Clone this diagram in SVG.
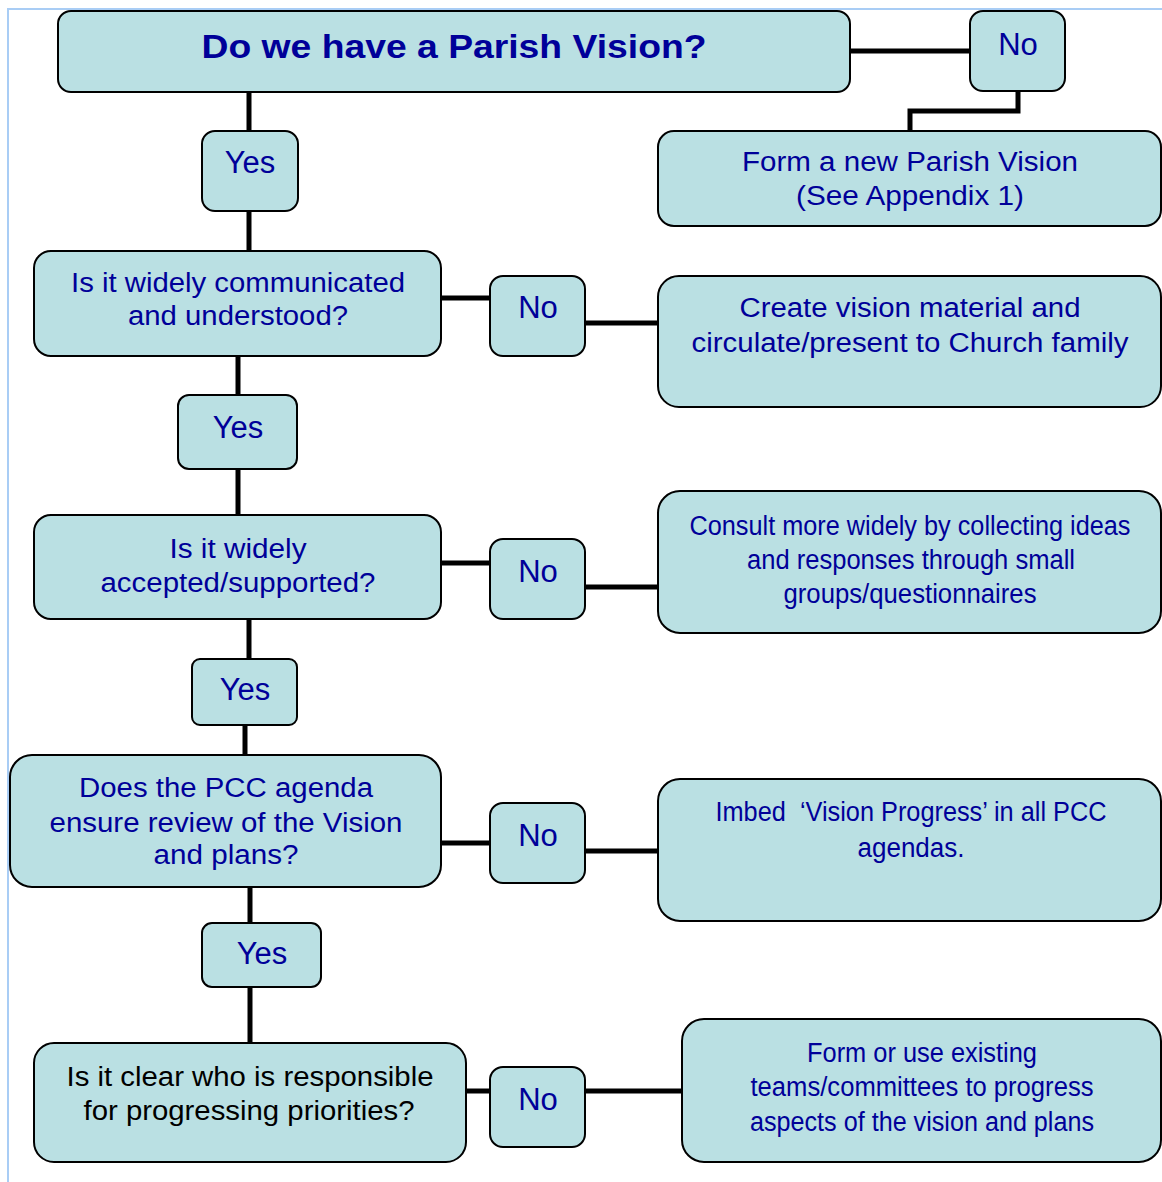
<svg xmlns="http://www.w3.org/2000/svg" width="1162" height="1182" viewBox="0 0 1162 1182">
<style>
.box{fill:#BAE0E3;stroke:#000;stroke-width:2}
.t{font-family:"Liberation Sans",Arial,sans-serif;font-size:27px;fill:#000099;text-anchor:middle}
.yn{font-size:31px}
.title{font-size:34px;font-weight:bold}
.cond{font-size:27px}
.blk{fill:#000}
.c{fill:none;stroke:#000;stroke-width:5}
</style>
<rect width="1162" height="1182" fill="#fff"/>
<path d="M8,1182 V9 H1162" fill="none" stroke="#A9CDF5" stroke-width="2"/>
<g id="connectors">
<path class="c" d="M850,51 H970"/>
<path class="c" d="M1018,91 V111 H910 V131"/>
<path class="c" d="M249,92 V131"/>
<path class="c" d="M249,211 V251"/>
<path class="c" d="M441,298 H490"/>
<path class="c" d="M585,323 H658"/>
<path class="c" d="M238,356 V395"/>
<path class="c" d="M238,469 V515"/>
<path class="c" d="M441,563 H490"/>
<path class="c" d="M585,587 H658"/>
<path class="c" d="M249,619 V659"/>
<path class="c" d="M245,725 V755"/>
<path class="c" d="M441,843 H490"/>
<path class="c" d="M585,851 H658"/>
<path class="c" d="M250,887 V923"/>
<path class="c" d="M250,987 V1043"/>
<path class="c" d="M466,1091 H490"/>
<path class="c" d="M585,1091 H682"/>
</g>
<g id="n-vision">
<rect class="box" x="58" y="11" width="792" height="81" rx="13"/>
<text class="t title" x="454" y="58" textLength="505" lengthAdjust="spacingAndGlyphs">Do we have a Parish Vision?</text>
</g>
<g id="n-no0">
<rect class="box" x="970" y="11" width="95" height="80" rx="13"/>
<text class="t yn" x="1018" y="55">No</text>
</g>
<g id="n-form">
<rect class="box" x="658" y="131" width="503" height="95" rx="16"/>
<text class="t" x="910" y="171" textLength="336" lengthAdjust="spacingAndGlyphs">Form a new Parish Vision</text>
<text class="t" x="910" y="205" textLength="228" lengthAdjust="spacingAndGlyphs">(See Appendix 1)</text>
</g>
<g id="n-yes1">
<rect class="box" x="202" y="131" width="96" height="80" rx="13"/>
<text class="t yn" x="250" y="173">Yes</text>
</g>
<g id="n-comm">
<rect class="box" x="34" y="251" width="407" height="105" rx="17"/>
<text class="t" x="238" y="292" textLength="334" lengthAdjust="spacingAndGlyphs">Is it widely communicated</text>
<text class="t" x="238" y="325" textLength="220" lengthAdjust="spacingAndGlyphs">and understood?</text>
</g>
<g id="n-no1">
<rect class="box" x="490" y="276" width="95" height="80" rx="13"/>
<text class="t yn" x="538" y="318">No</text>
</g>
<g id="n-create">
<rect class="box" x="658" y="276" width="503" height="131" rx="21"/>
<text class="t" x="910" y="317" textLength="341" lengthAdjust="spacingAndGlyphs">Create vision material and</text>
<text class="t" x="910" y="352" textLength="437" lengthAdjust="spacingAndGlyphs">circulate/present to Church family</text>
</g>
<g id="n-yes2">
<rect class="box" x="178" y="395" width="119" height="74" rx="11"/>
<text class="t yn" x="238" y="438">Yes</text>
</g>
<g id="n-accept">
<rect class="box" x="34" y="515" width="407" height="104" rx="17"/>
<text class="t" x="238" y="558" textLength="137" lengthAdjust="spacingAndGlyphs">Is it widely</text>
<text class="t" x="238" y="592" textLength="275" lengthAdjust="spacingAndGlyphs">accepted/supported?</text>
</g>
<g id="n-no2">
<rect class="box" x="490" y="539" width="95" height="80" rx="13"/>
<text class="t yn" x="538" y="582">No</text>
</g>
<g id="n-consult">
<rect class="box" x="658" y="491" width="503" height="142" rx="22"/>
<text class="t cond" x="910" y="535" textLength="441" lengthAdjust="spacingAndGlyphs">Consult more widely by collecting ideas</text>
<text class="t cond" x="911" y="569" textLength="328" lengthAdjust="spacingAndGlyphs">and responses through small</text>
<text class="t cond" x="910" y="603" textLength="253" lengthAdjust="spacingAndGlyphs">groups/questionnaires</text>
</g>
<g id="n-yes3">
<rect class="box" x="192" y="659" width="105" height="66" rx="8"/>
<text class="t yn" x="245" y="700">Yes</text>
</g>
<g id="n-pcc">
<rect class="box" x="10" y="755" width="431" height="132" rx="22"/>
<text class="t" x="226" y="797" textLength="294" lengthAdjust="spacingAndGlyphs">Does the PCC agenda</text>
<text class="t" x="226" y="832" textLength="353" lengthAdjust="spacingAndGlyphs">ensure review of the Vision</text>
<text class="t" x="226" y="864" textLength="145" lengthAdjust="spacingAndGlyphs">and plans?</text>
</g>
<g id="n-no3">
<rect class="box" x="490" y="803" width="95" height="80" rx="13"/>
<text class="t yn" x="538" y="846">No</text>
</g>
<g id="n-imbed">
<rect class="box" x="658" y="779" width="503" height="142" rx="22"/>
<text class="t cond" x="911" y="821" textLength="391" lengthAdjust="spacingAndGlyphs">Imbed&#160; ‘Vision Progress’ in all PCC</text>
<text class="t cond" x="911" y="857" textLength="107" lengthAdjust="spacingAndGlyphs">agendas.</text>
</g>
<g id="n-yes4">
<rect class="box" x="202" y="923" width="119" height="64" rx="10"/>
<text class="t yn" x="262" y="964">Yes</text>
</g>
<g id="n-resp">
<rect class="box" x="34" y="1043" width="432" height="119" rx="20"/>
<text class="t blk" x="250" y="1086" textLength="367" lengthAdjust="spacingAndGlyphs">Is it clear who is responsible</text>
<text class="t blk" x="249" y="1120" textLength="331" lengthAdjust="spacingAndGlyphs">for progressing priorities?</text>
</g>
<g id="n-no4">
<rect class="box" x="490" y="1067" width="95" height="80" rx="13"/>
<text class="t yn" x="538" y="1110">No</text>
</g>
<g id="n-teams">
<rect class="box" x="682" y="1019" width="479" height="143" rx="22"/>
<text class="t cond" x="922" y="1062" textLength="230" lengthAdjust="spacingAndGlyphs">Form or use existing</text>
<text class="t cond" x="922" y="1096" textLength="343" lengthAdjust="spacingAndGlyphs">teams/committees to progress</text>
<text class="t cond" x="922" y="1131" textLength="344" lengthAdjust="spacingAndGlyphs">aspects of the vision and plans</text>
</g>
</svg>
